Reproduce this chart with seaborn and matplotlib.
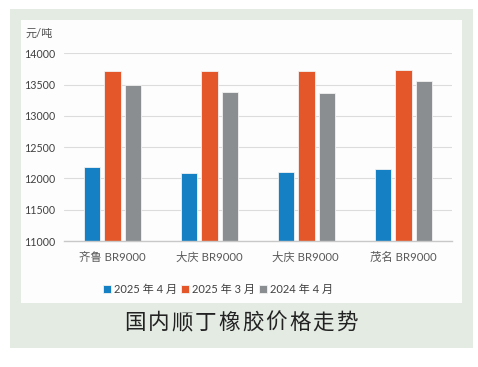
import numpy as np
import pandas as pd
import matplotlib
matplotlib.use("Agg")
import matplotlib.pyplot as plt
from matplotlib.patches import Rectangle
import seaborn as sns

categories = ["齐鲁 BR9000", "大庆 BR9000", "大庆 BR9000 ", "茂名 BR9000"]
series_names = ["2025 年 4 月", "2025 年 3 月", "2024 年 4 月"]
apr_2025 = [12180, 12080, 12100, 12150]
mar_2025 = [13720, 13710, 13710, 13730]
apr_2024 = [13490, 13380, 13370, 13550]
colors = ["#1580c3", "#e3572a", "#8b8e91"]
title = "国内顺丁橡胶价格走势"
y_unit = "元/吨"
y_ticks = [11000, 11500, 12000, 12500, 13000, 13500, 14000]

df = pd.DataFrame({
    "cat": categories * 3,
    "series": [s for s in series_names for _ in categories],
    "value": apr_2025 + mar_2025 + apr_2024,
})

sns.set_theme(style="white")
plt.rcParams["font.family"] = ["Lato", "Noto Sans CJK SC"]

W, H = 478, 367
fig = plt.figure(figsize=(W / 100, H / 100), dpi=100)
fig.patch.set_facecolor("white")

def fx(px):
    return px / W

def fy(py):
    return 1 - py / H

fig.patches.append(Rectangle((fx(10), fy(348)), fx(463), 339 / H,
                             transform=fig.transFigure, facecolor="#e4ebe3",
                             edgecolor="none", zorder=-2))
fig.patches.append(Rectangle((fx(21), fy(303)), fx(441), 283 / H,
                             transform=fig.transFigure, facecolor="#fdfdfd",
                             edgecolor="none", zorder=-1))

ax = fig.add_axes([fx(64), fy(241), fx(388), (241 - 53.3) / H])
ax.set_facecolor("none")
ax.set_zorder(2)

sns.barplot(data=df, x="cat", y="value", hue="series", palette=colors,
            width=0.64, gap=0.22, ax=ax, edgecolor="#f2f2f2", linewidth=0.6,
            saturation=1, legend=True)

ax.set_ylim(11000, 14000)
ax.set_xlim(-0.5, 3.5)
ax.set_yticks(y_ticks)
ax.set_yticklabels([str(t) for t in y_ticks])
ax.set_xlabel("")
ax.set_ylabel("")
for s in ["top", "right", "left"]:
    ax.spines[s].set_visible(False)
ax.spines["bottom"].set_color("#c8c8c8")
ax.spines["bottom"].set_linewidth(1.0)
ax.yaxis.grid(True, color="#dcdcdc", linewidth=0.8)
ax.set_axisbelow(True)
ax.tick_params(axis="y", length=0, pad=6.5, labelsize=7.7, labelcolor="#404040")
ax.tick_params(axis="x", length=0, pad=8, labelsize=8.2, labelcolor="#595959")

fig.text(fx(25), fy(33), y_unit, fontsize=8, color="#505050",
         ha="left", va="center")

handles, labels = ax.get_legend_handles_labels()
ax.get_legend().remove()
fig.legend(handles, labels, loc="center", bbox_to_anchor=(fx(218), fy(289)),
           ncol=3, frameon=False, fontsize=8, handlelength=0.7,
           handleheight=0.7, handletextpad=0.3, columnspacing=0.35,
           labelcolor="#404040")

cx0, cx1 = 135, 347
for i, ch in enumerate(title):
    x = cx0 + (cx1 - cx0) * i / (len(title) - 1)
    fig.text(fx(x), fy(323), ch, fontsize=15.5, color="#222222",
             ha="center", va="center", family=["Noto Sans CJK SC"])

fig.savefig("out.png", dpi=100, facecolor=fig.get_facecolor())
